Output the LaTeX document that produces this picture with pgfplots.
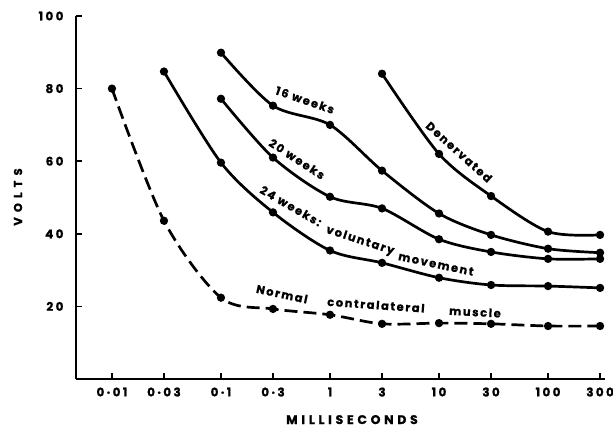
\documentclass[border=0pt]{standalone}
\usepackage{fontspec}
\setmainfont{Poppins}
\newfontfamily\tickf[LetterSpace=20, FakeBold=1]{Poppins}
\newfontfamily\labf[LetterSpace=30, FakeBold=1]{Poppins}
\newfontfamily\labv[LetterSpace=45, FakeBold=1]{Poppins}
\newfontfamily\curvef[LetterSpace=14, FakeBold=0.8]{Poppins}
\usepackage{pgfplots}
\pgfplotsset{compat=1.18}
\begin{document}
\begin{tikzpicture}[x=1bp,y=1bp]
\begin{axis}[
  at={(0,0)}, anchor=south west,
  scale only axis, width=529bp, height=363bp,
  xmode=log, xmin=0.00468, xmax=333, ymin=0, ymax=100,
  axis lines=left, axis line style={-, line width=2.6bp},
  xtick={0.01,0.03,0.1,0.3,1,3,10,30,100,300},
  xticklabels={0·01,0·03,0·1,0·3,1,3,10,30,100,300},
  minor xtick={},
  ytick={20,40,60,80,100}, yticklabels={20,40,60,80,100},
  major tick length=6bp, tick style={line width=1.6bp, black}, tick align=inside,
  ticklabel style={font=\tickf\bfseries\fontsize{12}{12}\selectfont},
  xticklabel style={yshift=-5bp},
  yticklabel style={xshift=-9bp},
  clip=false,
]
\addplot[line width=2.7bp, smooth, mark=*, mark size=2.7bp, dash pattern=on 13bp off 6bp, mark options={solid}]
  coordinates {(0.01,80)(0.03,43.6)(0.1,22.4)(0.3,19.3)(1,17.7)(3,15.2)(10,15.4)(30,15.2)(100,14.6)(300,14.6)};
\addplot[line width=2.7bp, smooth, mark=*, mark size=2.7bp]
  coordinates {(0.03,84.7)(0.1,59.6)(0.3,45.9)(1,35.4)(3,32)(10,27.9)(30,25.9)(100,25.6)(300,25.1)};
\addplot[line width=2.7bp, smooth, mark=*, mark size=2.7bp]
  coordinates {(0.1,77.2)(0.3,61)(1,50.2)(3,47)(10,38.5)(30,35)(100,33.1)(300,33.1)};
\addplot[line width=2.7bp, smooth, mark=*, mark size=2.7bp]
  coordinates {(0.1,89.9)(0.3,75.3)(1,70)(3,57.4)(10,45.6)(30,39.7)(100,35.9)(300,34.8)};
\addplot[line width=2.7bp, smooth, mark=*, mark size=2.7bp]
  coordinates {(3,84.1)(10,62)(30,50.4)(100,40.6)(300,39.7)};
\end{axis}
\node[rotate=90, inner sep=0pt, font=\labv\bfseries\fontsize{11.5}{12}\selectfont] at (-58,182) {VOLTS};
\node[anchor=base, inner sep=0pt, font=\labf\bfseries\fontsize{12.5}{13}\selectfont] at (276,-45) {MILLISECONDS};
\begin{scope}[every node/.style={font=\curvef\bfseries\fontsize{11.5}{12}\selectfont, inner sep=0pt}]
\node[rotate=-19] at (229,279) {16 weeks};
\node[rotate=-33] at (221,220) {20 weeks};
\node[rotate=-30] at (215,173) {24 weeks:};
\node[rotate=-18] at (284,138) {voluntary};
\node[rotate=-12] at (360,115) {movement};
\node[rotate=-42] at (383,227) {Denervated};
\node[rotate=-12] at (206,85) {Normal};
\node[rotate=-4] at (300,74) {contralateral};
\node[rotate=-3] at (399,67) {muscle};
\end{scope}
\pgfresetboundingbox
\useasboundingbox (-76,-49) rectangle (537,379);
\end{tikzpicture}
\end{document}
